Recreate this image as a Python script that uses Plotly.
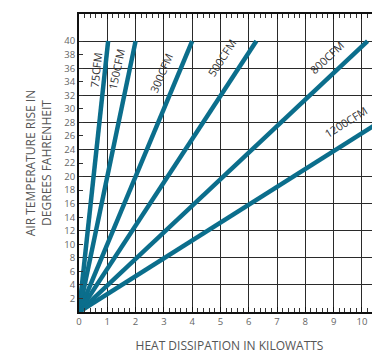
import plotly.graph_objects as go

# airflow curves: temperature rise (F) vs heat (kW), straight lines from origin
cfm_labels = ["75CFM", "150CFM", "300CFM", "500CFM", "800CFM", "1200CFM"]
kw_at_40f = [1.03, 2.0, 4.0, 6.27, 10.2, 15.15]
line_start = [0, 0]
line_end_temp = 40

# label anchor points (data units) and angles
label_x = [0.6, 1.32, 2.9, 5.02, 8.75, 9.45]
label_y = [35.8, 35.8, 35.2, 37.5, 37.6, 28.1]
label_angle = [-84, -78, -67, -57, -43, -32]

ytick_vals = list(range(2, 42, 2))
xtick_vals = list(range(0, 11))

line_color = "#0b6e8c"
text_color = "#555555"

fig = go.Figure()
for name, kw in zip(cfm_labels, kw_at_40f):
    fig.add_trace(go.Scatter(
        x=[line_start[0], kw], y=[line_start[1], line_end_temp],
        mode="lines", name=name, showlegend=False,
        line=dict(color=line_color, width=4.5),
    ))

for name, lx, ly, ang in zip(cfm_labels, label_x, label_y, label_angle):
    fig.add_annotation(x=lx, y=ly, text=name, showarrow=False, textangle=ang,
                       font=dict(family="Open Sans", size=11, color="#333333"))

# page body has an 8px margin, so the figure is a bit smaller than the window
fig.update_layout(
    width=372, height=346,
    margin=dict(l=71, r=0, t=6, b=42),
    paper_bgcolor="white", plot_bgcolor="white",
    font=dict(family="Open Sans", color=text_color),
)
fig.update_xaxes(
    range=[0, 10.64], tickvals=xtick_vals,
    showgrid=True, gridcolor="#2a2a2a", gridwidth=1, zeroline=False,
    showline=True, linecolor="#111111", linewidth=2, mirror="ticks",
    ticks="inside", ticklen=5, tickcolor="#111111",
    tickfont=dict(size=9.5, color="#666666"),
    minor=dict(dtick=0.2, ticks="inside", ticklen=4, tickcolor="#333333", showgrid=False),
    title=dict(text="HEAT DISSIPATION IN KILOWATTS", font=dict(size=12, color=text_color), standoff=14),
)
fig.update_yaxes(
    range=[0, 44], tickvals=ytick_vals,
    showgrid=False, zeroline=False,
    showline=True, linecolor="#111111", linewidth=2,
    ticks="inside", ticklen=4, tickcolor="#333333",
    tickfont=dict(size=9.5, color="#666666"),
    minor=dict(tickvals=list(range(4, 44, 4)), showgrid=True, gridcolor="#2a2a2a", gridwidth=1, ticks=""),
    title=dict(text="AIR TEMPERATURE RISE IN<br>DEGREES FAHRENHEIT", font=dict(size=12, color=text_color), standoff=10),
)

fig.write_html("out.html")
